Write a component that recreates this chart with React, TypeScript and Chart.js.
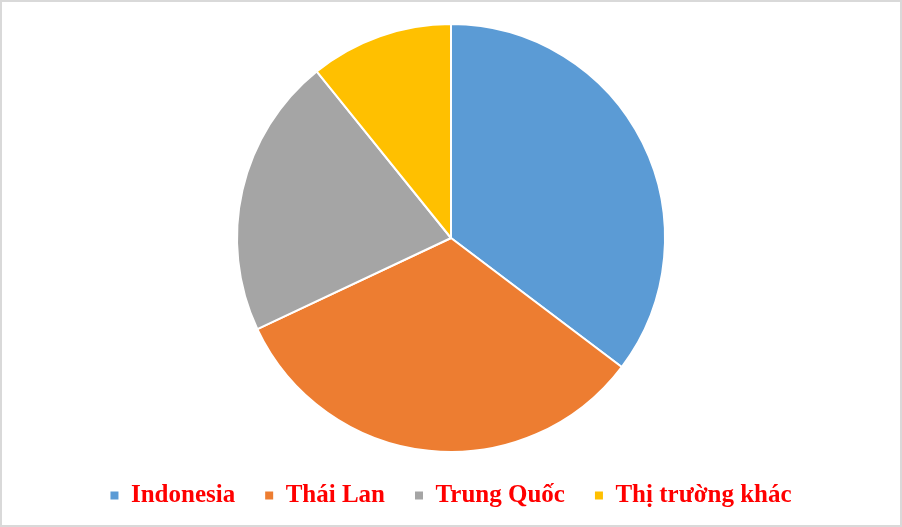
import { useRef, useEffect } from 'react'
import { Chart, registerables } from 'chart.js'

Chart.register(...registerables)

const markets = ['Indonesia', 'Thái Lan', 'Trung Quốc', 'Thị trường khác']
const shares = [35.3, 32.7, 21.2, 10.8]
const colors = ['#5B9BD5', '#ED7D31', '#A5A5A5', '#FFC000']

export default function App() {
  const canvasRef = useRef<HTMLCanvasElement>(null)
  const chartRef = useRef<Chart | null>(null)

  useEffect(() => {
    if (!canvasRef.current) return
    if (chartRef.current) chartRef.current.destroy()

    chartRef.current = new Chart(canvasRef.current, {
      type: 'pie',
      data: {
        labels: markets,
        datasets: [
          { data: shares, backgroundColor: colors, borderColor: '#ffffff', borderWidth: 2 },
        ],
      },
      options: {
        responsive: true,
        maintainAspectRatio: false,
        animation: false,
        layout: { padding: { top: 21, bottom: 7 } },
        plugins: {
          tooltip: { enabled: false },
          legend: {
            position: 'bottom',
            labels: {
              color: '#ff0000',
              font: { family: '"Liberation Serif", "Times New Roman", serif', size: 25, weight: 'bold' },
              boxWidth: 8,
              boxHeight: 8,
              padding: 30,
              generateLabels: (chart) =>
                Chart.overrides.pie.plugins.legend.labels.generateLabels(chart).map(l => ({ ...l, lineWidth: 0, strokeStyle: 'transparent' })),
            },
          },
        },
      },
    })

    return () => { chartRef.current?.destroy() }
  }, [])

  return (
    <div style={{ position: 'fixed', left: 0, top: 0, width: 902, height: 527, boxSizing: 'border-box', border: '2px solid #d9d9d9', background: '#fff' }}>
      <canvas ref={canvasRef} />
    </div>
  )
}
